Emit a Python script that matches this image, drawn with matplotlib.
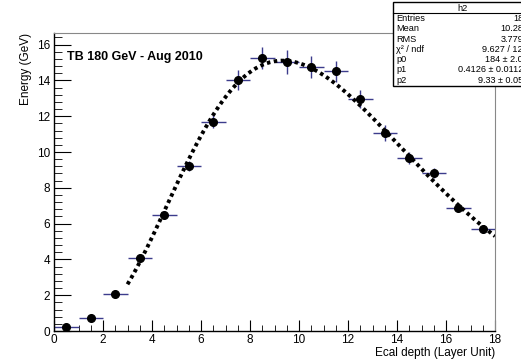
import math
import numpy as np
import matplotlib
matplotlib.use('Agg')
import matplotlib.pyplot as plt
from matplotlib.ticker import MultipleLocator

plt.rcParams['font.family'] = ['Liberation Sans', 'DejaVu Sans']

# histogram h2: energy per ecal layer
depth = [0.5, 1.5, 2.5, 3.5, 4.5, 5.5, 6.5, 7.5, 8.5,
         9.5, 10.5, 11.5, 12.5, 13.5, 14.5, 15.5, 16.5, 17.5]
energy = [0.25, 0.75, 2.08, 4.1, 6.5, 9.2, 11.7, 14.0, 15.25,
          15.03, 14.75, 14.5, 12.96, 11.06, 9.66, 8.83, 6.9, 5.68]
energy_err = [0.05, 0.08, 0.12, 0.18, 0.22, 0.28, 0.36, 0.56, 0.6,
              0.67, 0.6, 0.6, 0.5, 0.45, 0.35, 0.3, 0.22, 0.2]
depth_err = [0.5] * len(depth)

# fit parameters (from the stats box)
p0, p1, p2 = 184, 0.4126, 9.33
fit_range = (3, 18)

stats_rows = [
    ('Entries', '18'),
    ('Mean', '10.28'),
    ('RMS', '3.779'),
    ('χ² / ndf', '9.627 / 12'),
    ('p0', '184 ± 2.0'),
    ('p1', '0.4126 ± 0.0112'),
    ('p2', '9.33 ± 0.05'),
]


def fit_func(x):
    k = p1 * p2
    return p0 * p1 * (p1 * x) ** k * np.exp(-p1 * x) / math.gamma(k + 1)


fig = plt.figure(figsize=(5.21, 3.6), dpi=100)
ax = fig.add_axes([54 / 521, 29 / 360, 441 / 521, 298 / 360])

ax.errorbar(depth, energy, xerr=depth_err, yerr=energy_err, fmt='none',
            ecolor='#3c3c8c', elinewidth=1.0, capsize=0, zorder=2)
ax.plot(depth, energy, 'o', color='black', markersize=5.5, zorder=3)

xf = np.linspace(fit_range[0], fit_range[1], 300)
ax.plot(xf, fit_func(xf), color='black', lw=2.8, linestyle=(0, (0.9, 0.9)),
        zorder=4)

ax.set_xlim(0, 18)
ax.set_ylim(0, 16.65)
ax.xaxis.set_major_locator(MultipleLocator(2))
ax.xaxis.set_minor_locator(MultipleLocator(0.5))
ax.yaxis.set_major_locator(MultipleLocator(2))
ax.yaxis.set_minor_locator(MultipleLocator(0.4))
ax.tick_params(which='both', direction='in', labelsize=8.5, colors='black')
ax.tick_params(axis='x', which='major', length=8, pad=2)
ax.tick_params(axis='x', which='minor', length=4)
ax.tick_params(axis='y', which='major', length=12, pad=3)
ax.tick_params(axis='y', which='minor', length=6)
for s in ('top', 'right'):
    ax.spines[s].set_color('#888888')
for s in ('left', 'bottom'):
    ax.spines[s].set_linewidth(1.0)

ax.set_xlabel('Ecal depth (Layer Unit)', fontsize=8.5, loc='right', labelpad=1)
ax.set_ylabel('Energy (GeV)', fontsize=8.5, loc='top', labelpad=3)

ax.text(0.03, 0.94, 'TB 180 GeV - Aug 2010', transform=ax.transAxes,
        fontsize=9, fontweight='bold', va='top', ha='left')

# stats box, partly outside the picture like the original
W, H = 521, 360
box_left, box_top, row_h = 393, 2, 10.3
box = plt.Rectangle((box_left / W, 1 - (box_top + row_h * 8 + 2) / H),
                    (W + 10 - box_left) / W, (row_h * 8 + 2) / H,
                    transform=fig.transFigure, facecolor='white',
                    edgecolor='black', lw=1.0, zorder=10)
fig.add_artist(box)
fig.add_artist(plt.Line2D([box_left / W, 1.02],
                          [1 - (box_top + row_h + 1) / H] * 2,
                          transform=fig.transFigure, color='black', lw=0.8,
                          zorder=11))
fig.text((box_left + 70) / W, 1 - (box_top + row_h / 2 + 1) / H, 'h2',
         fontsize=6.6, ha='center', va='center', zorder=12)
for i, (name, val) in enumerate(stats_rows):
    yy = 1 - (box_top + row_h * (i + 1.5) + 1) / H
    fig.text((box_left + 3) / W, yy, name, fontsize=6.6, ha='left',
             va='center', zorder=12)
    fig.text((W + 2) / W, yy, val, fontsize=6.6, ha='right', va='center',
             zorder=12)

fig.savefig('out.png', dpi=100)
